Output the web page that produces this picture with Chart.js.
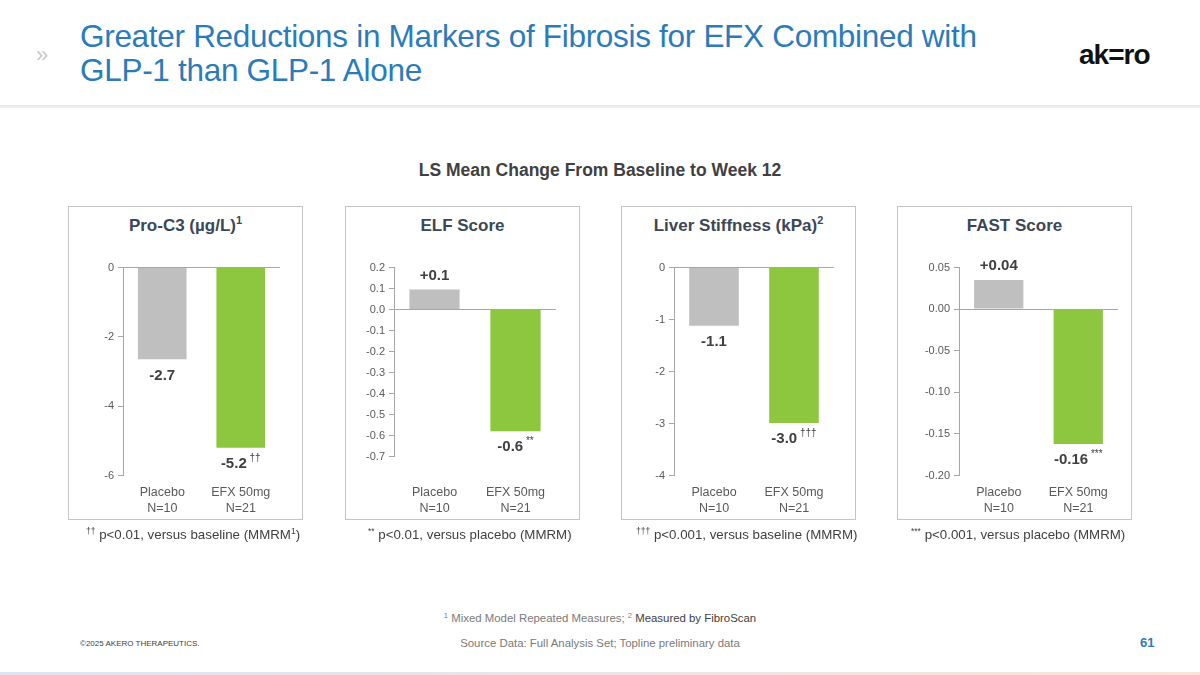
<!DOCTYPE html>
<html>
<head>
<meta charset="utf-8">
<script src="https://cdn.jsdelivr.net/npm/chart.js@4.4.0/dist/chart.umd.min.js"></script>
<style>
  html, body { margin: 0; padding: 0; }
  body { width: 1200px; height: 675px; position: relative; overflow: hidden; background: #fff;
         font-family: "Liberation Sans", Arial, sans-serif; }
  .abs { position: absolute; }
  #title { left: 80px; top: 19px; font-size: 31.5px; line-height: 34px; color: #2b7bbb; letter-spacing: -0.3px; }
  #chev { left: 36px; top: 42px; font-size: 22px; color: #c8c8c8; }
  #logo { left: 1079px; top: 39px; font-size: 28px; font-weight: bold; color: #111; letter-spacing: -1px; }
  #rule { left: 0; top: 105px; width: 1200px; height: 3px; background: linear-gradient(#e4e4e4, #f4f4f4); }
  #bottomRule { left: 0; top: 672px; width: 1200px; height: 3px; background: linear-gradient(to right, #d8e7f4, #f6e6da); }
  #heading { left: 0; width: 1200px; top: 160px; text-align: center; font-size: 17.5px; font-weight: bold; color: #404040; }
  .panel { width: 233px; height: 312px; top: 206px; border: 1.5px solid #c4c4c4; }
  .ptitle { position: absolute; left: 0; width: 100%; top: 9px; text-align: center; font-size: 17px; font-weight: bold; color: #3b4756; }
  .ptitle sup { font-size: 11px; vertical-align: 7px; line-height: 0; }
  .pcanvas { position: absolute; left: 0; top: 40px; }
  .fn { top: 527px; width: 270px; font-size: 13.3px; color: #404040; white-space: nowrap; }
  .fn sup { font-size: 8.5px; vertical-align: 5px; line-height: 0; }
  #notes { left: 0; width: 1200px; top: 612px; text-align: center; font-size: 11.4px; color: #7a7a7a; }
  #notes sup { font-size: 7.5px; vertical-align: 4px; line-height: 0; }
  #source { left: 0; width: 1200px; top: 637px; text-align: center; font-size: 11.4px; color: #7a7a7a; }
  #copy { left: 80px; top: 639px; font-size: 8px; color: #404040; }
  #page { left: 1140px; top: 635px; font-size: 13px; font-weight: bold; color: #2b7bbb; }
</style>
</head>
<body>
<div id="chev" class="abs">»</div>
<div id="title" class="abs">Greater Reductions in Markers of Fibrosis for EFX Combined with<br>GLP-1 than GLP-1 Alone</div>
<div id="logo" class="abs">ak=ro</div>
<div id="rule" class="abs"></div>
<div id="heading" class="abs">LS Mean Change From Baseline to Week 12</div>

<div id="p0" class="abs panel" style="left:68px"><div class="ptitle">Pro-C3 (µg/L)<sup>1</sup></div><canvas id="c0" class="pcanvas" width="233" height="271"></canvas></div>
<div id="p1" class="abs panel" style="left:345px"><div class="ptitle">ELF Score</div><canvas id="c1" class="pcanvas" width="233" height="290"></canvas></div>
<div id="p2" class="abs panel" style="left:621px"><div class="ptitle">Liver Stiffness (kPa)<sup>2</sup></div><canvas id="c2" class="pcanvas" width="233" height="271"></canvas></div>
<div id="p3" class="abs panel" style="left:897px"><div class="ptitle">FAST Score</div><canvas id="c3" class="pcanvas" width="233" height="271"></canvas></div>

<div class="abs fn" style="left:86px"><sup>††</sup> p&lt;0.01, versus baseline (MMRM<sup>1</sup>)</div>
<div class="abs fn" style="left:368px"><sup>**</sup> p&lt;0.01, versus placebo (MMRM)</div>
<div class="abs fn" style="left:636px"><sup>†††</sup> p&lt;0.001, versus baseline (MMRM)</div>
<div class="abs fn" style="left:911px"><sup>***</sup> p&lt;0.001, versus placebo (MMRM)</div>

<div id="notes" class="abs"><sup>1</sup> Mixed Model Repeated Measures; <sup>2</sup> <span style="color:#404040">Measured by FibroScan</span></div>
<div id="source" class="abs">Source Data: Full Analysis Set; Topline preliminary data</div>
<div id="copy" class="abs">©2025 AKERO THERAPEUTICS.</div>
<div id="page" class="abs">61</div>
<div id="bottomRule" class="abs"></div>

<script>
// data
const groups = ['Placebo', 'EFX 50mg'];
const groupN = ['N=10', 'N=21'];

const proC3Values = [-2.65, -5.2];
const proC3Labels = ['-2.7', '-5.2'];
const proC3Marks = ['', '††'];
const proC3Ticks = { min: -6, max: 0, step: 2, decimals: 0 };

const elfValues = [0.095, -0.58];
const elfLabels = ['+0.1', '-0.6'];
const elfMarks = ['', '**'];
const elfTicks = { min: -0.7, max: 0.2, step: 0.1, decimals: 1 };

const stiffnessValues = [-1.12, -2.99];
const stiffnessLabels = ['-1.1', '-3.0'];
const stiffnessMarks = ['', '†††'];
const stiffnessTicks = { min: -4, max: 0, step: 1, decimals: 0 };

const fastValues = [0.035, -0.162];
const fastLabels = ['+0.04', '-0.16'];
const fastMarks = ['', '***'];
const fastTicks = { min: -0.2, max: 0.05, step: 0.05, decimals: 2 };

const barColors = ['#bfbfbf', '#8dc63f'];

// per-panel layout (y axis width, right padding, x label gap)
const panelLayout = [
  { axisWidth: 54, rightPad: 22, xPad: 1 },
  { axisWidth: 48, rightPad: 23, xPad: 20 },
  { axisWidth: 52, rightPad: 21, xPad: 1 },
  { axisWidth: 61, rightPad: 13, xPad: 1 }
];

const valueLabelPlugin = {
  id: 'valueLabels',
  afterDatasetsDraw(chart, args, opts) {
    const ctx = chart.ctx;
    const meta = chart.getDatasetMeta(0);
    ctx.save();
    ctx.textBaseline = 'middle';
    ctx.fillStyle = '#404040';
    meta.data.forEach((bar, i) => {
      const v = chart.data.datasets[0].data[i];
      const main = opts.labels[i];
      const mark = opts.marks[i];
      ctx.font = 'bold 15px "Liberation Sans", Arial, sans-serif';
      const wMain = ctx.measureText(main).width;
      ctx.font = '10px "Liberation Sans", Arial, sans-serif';
      const wMark = mark ? ctx.measureText(' ' + mark).width : 0;
      const x0 = bar.x - (wMain + wMark) / 2;
      const y = v >= 0 ? bar.y - 14 : bar.y + 16;
      ctx.textAlign = 'left';
      ctx.font = 'bold 15px "Liberation Sans", Arial, sans-serif';
      ctx.fillText(main, x0, y);
      if (mark) {
        ctx.font = '10px "Liberation Sans", Arial, sans-serif';
        ctx.fillText(' ' + mark, x0 + wMain, y - 6);
      }
    });
    ctx.restore();
  }
};

function makePanel(canvasId, values, labels, marks, ticks, layout) {
  new Chart(document.getElementById(canvasId), {
    type: 'bar',
    data: {
      labels: groups.map((g, i) => [g, groupN[i]]),
      datasets: [{
        data: values,
        backgroundColor: barColors,
        borderWidth: 0,
        barPercentage: 0.62,
        categoryPercentage: 1.0
      }]
    },
    options: {
      responsive: false,
      animation: false,
      layout: { padding: { top: 20.5, right: layout.rightPad, bottom: 0, left: 0 } },
      plugins: {
        legend: { display: false },
        tooltip: { enabled: false },
        valueLabels: { labels: labels, marks: marks }
      },
      scales: {
        x: {
          grid: { display: false },
          border: { display: false },
          ticks: {
            color: '#595959',
            padding: layout.xPad,
            font: { family: '"Liberation Sans", Arial, sans-serif', size: 12.5, lineHeight: 1.3 },
            maxRotation: 0
          }
        },
        y: {
          min: ticks.min,
          max: ticks.max,
          afterFit(scale) { scale.width = layout.axisWidth; },
          ticks: {
            stepSize: ticks.step,
            color: '#595959',
            padding: 4,
            font: { family: '"Liberation Sans", Arial, sans-serif', size: 11 },
            callback: v => Math.abs(v) < 1e-9 ? (0).toFixed(ticks.decimals) : Number(v).toFixed(ticks.decimals)
          },
          border: { display: true, color: '#a6a6a6', width: 1 },
          grid: {
            color: c => (c.tick && Math.abs(c.tick.value) < 1e-9) ? '#a6a6a6' : 'rgba(0,0,0,0)',
            tickColor: '#a6a6a6',
            tickLength: 5,
            lineWidth: 1
          }
        }
      }
    },
    plugins: [valueLabelPlugin]
  });
}

makePanel('c0', proC3Values, proC3Labels, proC3Marks, proC3Ticks, panelLayout[0]);
makePanel('c1', elfValues, elfLabels, elfMarks, elfTicks, panelLayout[1]);
makePanel('c2', stiffnessValues, stiffnessLabels, stiffnessMarks, stiffnessTicks, panelLayout[2]);
makePanel('c3', fastValues, fastLabels, fastMarks, fastTicks, panelLayout[3]);
</script>
</body>
</html>
